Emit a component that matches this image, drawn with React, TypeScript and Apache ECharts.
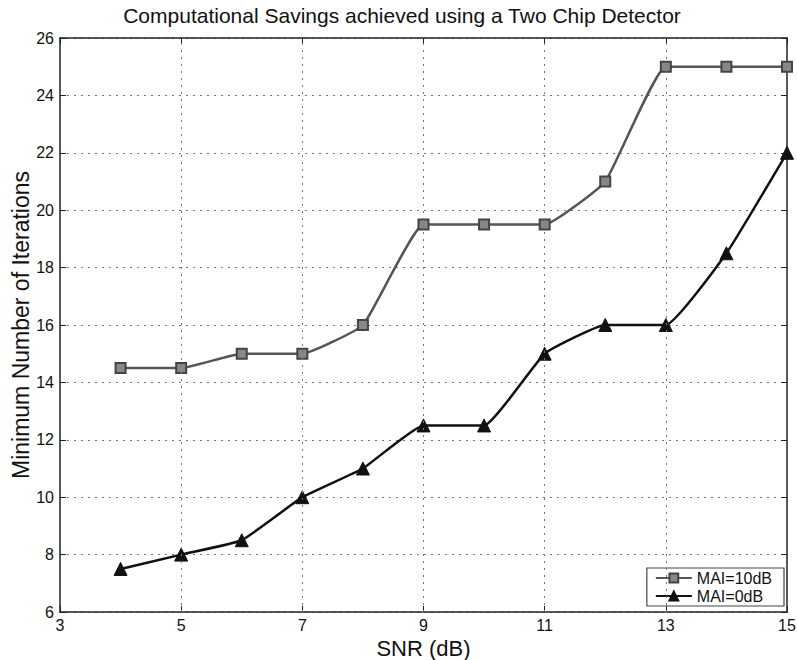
import React, { useEffect, useRef } from "react";
import * as echarts from "echarts";

const snr = [4, 5, 6, 7, 8, 9, 10, 11, 12, 13, 14, 15];
const mai10 = [14.5, 14.5, 15, 15, 16, 19.5, 19.5, 19.5, 21, 25, 25, 25];
const mai0 = [7.5, 8, 8.5, 10, 11, 12.5, 12.5, 15, 16, 16, 18.5, 22];
const seriesNames = ["MAI=10dB", "MAI=0dB"];
const xGridValues = [5, 7, 9, 11, 13];

const FONT = "Liberation Sans, Arial, Helvetica, sans-serif";

export default function App() {
  const ref = useRef<HTMLDivElement>(null);
  useEffect(() => {
    const chart = echarts.init(ref.current!, null, { renderer: "svg" });
    const tickStyle = { show: true, inside: true, length: 6, lineStyle: { color: "#222", width: 1 } };
    const gridLine = { type: [2, 5], color: "#777", width: 1 };
    chart.setOption({
      animation: false,
      backgroundColor: "#fff",
      title: {
        text: "Computational Savings achieved using a Two Chip Detector",
        left: 397,
        textAlign: "center",
        top: 0,
        textStyle: { fontFamily: FONT, fontSize: 21, fontWeight: "normal", color: "#111" },
      },
      grid: { left: 60, right: 10, top: 38, bottom: 48, show: false, outerBoundsMode: "none", containLabel: false },
      legend: {
        right: 13,
        bottom: 54,
        orient: "vertical",
        itemGap: 2,
        itemWidth: 36,
        itemHeight: 11,
        padding: [2, 12, 2, 8],
        borderColor: "#444",
        borderWidth: 1.2,
        backgroundColor: "#fff",
        textStyle: { fontFamily: FONT, fontSize: 16, color: "#111" },
        data: seriesNames,
      },
      xAxis: [
        {
          type: "value",
          min: 3,
          max: 15,
          interval: 2,
          name: "SNR (dB)",
          nameLocation: "middle",
          nameGap: 25,
          nameTextStyle: { fontFamily: FONT, fontSize: 22, color: "#111" },
          axisLine: { show: true, lineStyle: { color: "#222", width: 1.5 } },
          axisTick: tickStyle,
          axisLabel: { fontFamily: FONT, fontSize: 16, color: "#111", margin: 5 },
          splitLine: { show: false },
        },
        {
          type: "value",
          min: 3,
          max: 15,
          interval: 2,
          position: "top",
          axisLine: { show: true, onZero: false, lineStyle: { color: "#222", width: 1.5 } },
          axisTick: tickStyle,
          axisLabel: { show: false },
          splitLine: { show: false },
        },
      ],
      yAxis: [
        {
          type: "value",
          min: 6,
          max: 26,
          interval: 2,
          name: "Minimum Number of Iterations",
          nameLocation: "middle",
          nameGap: 28,
          nameMoveOverlap: false,
          nameTextStyle: { fontFamily: FONT, fontSize: 23, color: "#111" },
          axisLine: { show: true, lineStyle: { color: "#222", width: 1.5 } },
          axisTick: tickStyle,
          axisLabel: { fontFamily: FONT, fontSize: 16, color: "#111", margin: 6 },
          splitLine: { show: true, lineStyle: gridLine },
        },
        {
          type: "value",
          min: 6,
          max: 26,
          interval: 2,
          position: "right",
          axisLine: { show: true, onZero: false, lineStyle: { color: "#222", width: 1.5 } },
          axisTick: tickStyle,
          axisLabel: { show: false },
          splitLine: { show: false },
        },
      ],
      series: [
        {
          name: seriesNames[0],
          type: "line",
          data: snr.map((x, i) => [x, mai10[i]]),
          smooth: 0.12,
          symbol: "rect",
          symbolSize: 10,
          lineStyle: { color: "#555", width: 2.5 },
          itemStyle: { color: "#888", borderColor: "#444", borderWidth: 2 },
          markLine: {
            silent: true,
            symbol: "none",
            label: { show: false },
            lineStyle: gridLine,
            data: xGridValues.map((v) => ({ xAxis: v })),
          },
          z: 3,
        },
        {
          name: seriesNames[1],
          type: "line",
          data: snr.map((x, i) => [x, mai0[i]]),
          smooth: 0.12,
          symbol: "triangle",
          symbolSize: 13,
          lineStyle: { color: "#111", width: 2.5 },
          itemStyle: { color: "#111", borderColor: "#111", borderWidth: 1 },
          z: 4,
        },
      ],
    });
    return () => chart.dispose();
  }, []);
  return <div ref={ref} style={{ width: 797, height: 660, position: "absolute", left: 0, top: 0 }} />;
}
